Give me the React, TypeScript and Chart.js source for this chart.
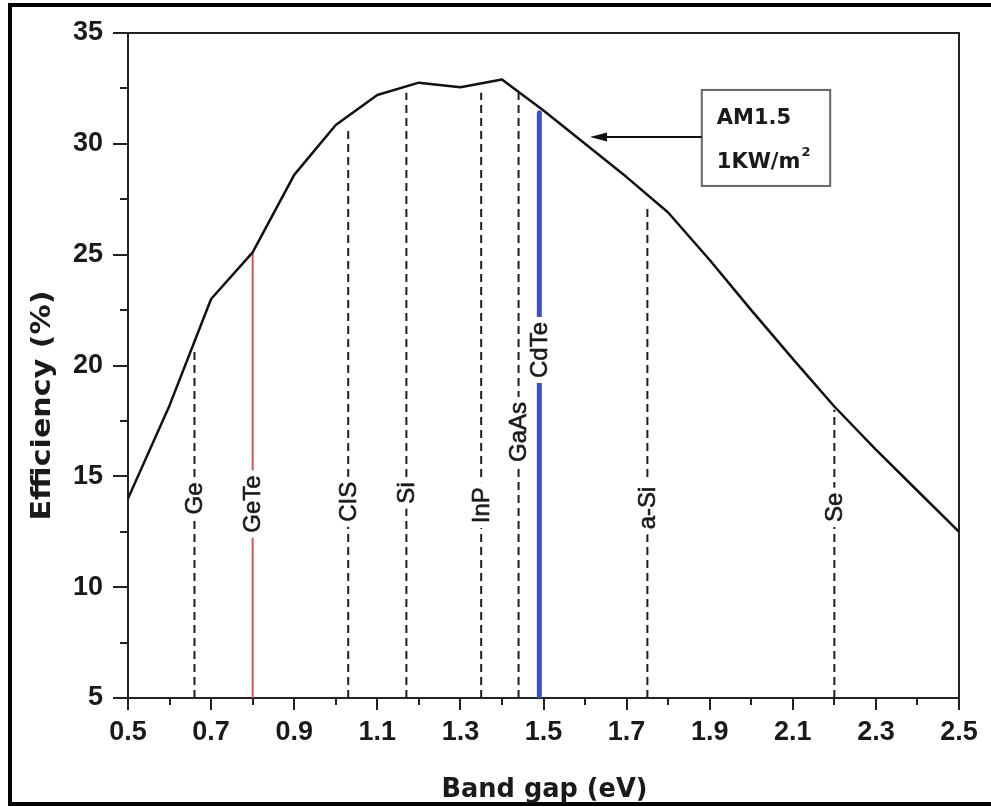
import React, { useEffect, useRef } from 'react';
import { Chart, registerables } from 'chart.js';

Chart.register(...registerables);

// ---- data ----
const bandGap = [0.5, 0.6, 0.7, 0.8, 0.9, 1.0, 1.1, 1.2, 1.3, 1.4, 1.5, 1.6, 1.7, 1.8, 1.9, 2.0, 2.1, 2.2, 2.3, 2.4, 2.5];
const efficiency = [14.0, 18.2, 23.0, 25.1, 28.6, 30.85, 32.2, 32.76, 32.55, 32.9, 31.5, 30.0, 28.5, 26.9, 24.76, 22.5, 20.3, 18.15, 16.2, 14.35, 12.5];

const materials = ['Ge', 'GeTe', 'CIS', 'Si', 'InP', 'GaAs', 'CdTe', 'a-Si', 'Se'];
const materialGap = [0.66, 0.8, 1.03, 1.17, 1.35, 1.44, 1.49, 1.75, 2.2];
const materialTop = [20.7, 25.1, 30.6, 32.3, 32.3, 32.3, 31.4, 27.1, 18.0];
const labelCenter = [14.0, 13.75, 13.85, 14.25, 13.7, 17.0, 20.7, 13.57, 13.6];

const xMajorTicks = [0.5, 0.7, 0.9, 1.1, 1.3, 1.5, 1.7, 1.9, 2.1, 2.3, 2.5];
const xMinorTicks = [0.6, 0.8, 1.0, 1.2, 1.4, 1.6, 1.8, 2.0, 2.2, 2.4];
const yMajorTicks = [5, 10, 15, 20, 25, 30, 35];
const yMinorTicks = [7.5, 12.5, 17.5, 22.5, 27.5, 32.5];

const xTitle = 'Band gap (eV)';
const yTitle = 'Efficiency (%)';
const boxLine1 = 'AM1.5';
const boxLine2 = '1KW/m';
const boxSup = '2';
// annotation box (data units)
const boxX = [1.881, 2.19];
const boxY = [32.43, 28.1];
const arrowY = 30.31;
const arrowTipX = 1.612;

const ARIAL = '"Liberation Sans", Arial, sans-serif';
const DEJAVU = '"DejaVu Sans", sans-serif';

function lineStyle(name: string) {
  if (name === 'GeTe') return { color: '#d9534f', width: 2, dash: [] as number[], cap: 'butt' };
  if (name === 'CdTe') return { color: '#3f4fc6', width: 5, dash: [] as number[], cap: 'round' };
  return { color: '#1e1e1e', width: 2, dash: [8, 5], cap: 'butt' };
}

export default function App() {
  const ref = useRef<HTMLCanvasElement>(null);

  useEffect(() => {
    const canvas = ref.current!;

    const decor = {
      id: 'decor',
      beforeDraw(chart: any) {
        const ctx = chart.ctx;
        ctx.save();
        ctx.fillStyle = '#fff';
        ctx.fillRect(0, 0, chart.width, chart.height);
        ctx.strokeStyle = '#000';
        ctx.lineWidth = 4;
        ctx.beginPath();
        ctx.moveTo(chart.width + 10, 5);
        ctx.lineTo(10, 5);
        ctx.lineTo(10, 804);
        ctx.lineTo(chart.width + 10, 804);
        ctx.stroke();
        ctx.restore();
      },
      afterDatasetsDraw(chart: any) {
        const ctx = chart.ctx;
        const xs = chart.scales.x;
        const ys = chart.scales.y;
        const area = chart.chartArea;
        ctx.save();
        // frame top/right
        ctx.strokeStyle = '#222';
        ctx.lineWidth = 2;
        ctx.beginPath();
        ctx.moveTo(area.left, area.top);
        ctx.lineTo(area.right, area.top);
        ctx.lineTo(area.right, area.bottom);
        ctx.stroke();
        // minor ticks
        ctx.beginPath();
        xMinorTicks.forEach((v) => {
          const px = Math.round(xs.getPixelForValue(v));
          ctx.moveTo(px, area.bottom);
          ctx.lineTo(px, area.bottom + 7);
        });
        yMinorTicks.forEach((v) => {
          const py = Math.round(ys.getPixelForValue(v));
          ctx.moveTo(area.left - 8, py);
          ctx.lineTo(area.left, py);
        });
        ctx.stroke();

        // material labels
        ctx.font = `24px ${ARIAL}`;
        materials.forEach((m, i) => {
          const px = xs.getPixelForValue(materialGap[i]);
          const py = ys.getPixelForValue(labelCenter[i]);
          const w = ctx.measureText(m).width;
          ctx.save();
          ctx.translate(px, py);
          ctx.rotate(-Math.PI / 2);
          ctx.fillStyle = '#fff';
          ctx.fillRect(-w / 2 - 5, -6, w + 10, 12);
          ctx.fillStyle = '#1a1a1a';
          ctx.strokeStyle = '#1a1a1a';
          ctx.lineWidth = 0.6;
          ctx.textAlign = 'center';
          ctx.textBaseline = 'middle';
          ctx.fillText(m, 0, 1);
          ctx.strokeText(m, 0, 1);
          ctx.restore();
        });

        // annotation box
        const bl = xs.getPixelForValue(boxX[0]);
        const br = xs.getPixelForValue(boxX[1]);
        const bt = ys.getPixelForValue(boxY[0]);
        const bb = ys.getPixelForValue(boxY[1]);
        ctx.strokeStyle = '#666';
        ctx.lineWidth = 2;
        ctx.strokeRect(bl, bt, br - bl, bb - bt);
        ctx.fillStyle = '#1a1a1a';
        ctx.textAlign = 'left';
        ctx.textBaseline = 'alphabetic';
        ctx.font = `bold 21px ${DEJAVU}`;
        ctx.fillText(boxLine1, bl + 15, bt + 34);
        ctx.fillText(boxLine2, bl + 15, bt + 78);
        const w2 = ctx.measureText(boxLine2).width;
        ctx.font = `bold 13px ${DEJAVU}`;
        ctx.fillText(boxSup, bl + 16 + w2, bt + 66);
        // arrow
        const ay = ys.getPixelForValue(arrowY);
        const tip = xs.getPixelForValue(arrowTipX);
        ctx.strokeStyle = '#111';
        ctx.lineWidth = 2;
        ctx.beginPath();
        ctx.moveTo(bl, ay);
        ctx.lineTo(tip + 14, ay);
        ctx.stroke();
        ctx.fillStyle = '#111';
        ctx.beginPath();
        ctx.moveTo(tip, ay);
        ctx.lineTo(tip + 17, ay - 4.5);
        ctx.lineTo(tip + 17, ay + 4.5);
        ctx.closePath();
        ctx.fill();
        ctx.restore();
      },
      afterDraw(chart: any) {
        const ctx = chart.ctx;
        const area = chart.chartArea;
        ctx.save();
        ctx.fillStyle = '#1a1a1a';
        // x title
        ctx.font = `bold 26px ${DEJAVU}`;
        ctx.textAlign = 'center';
        ctx.textBaseline = 'alphabetic';
        {
          const w = ctx.measureText(xTitle).width;
          const s = 206 / w;
          ctx.save();
          ctx.translate((area.left + area.right) / 2 + 1, area.bottom + 99);
          ctx.scale(s, 1);
          ctx.fillText(xTitle, 0, 0);
          ctx.restore();
        }
        // y title
        ctx.font = `bold 27px ${DEJAVU}`;
        {
          const w = ctx.measureText(yTitle).width;
          const s = 230 / w;
          ctx.save();
          ctx.translate(area.left - 78, (area.top + area.bottom) / 2 + 40);
          ctx.rotate(-Math.PI / 2);
          ctx.scale(s, 1);
          ctx.fillText(yTitle, 0, 0);
          ctx.restore();
        }
        ctx.restore();
      },
    };

    const datasets: any[] = [
      {
        label: 'Efficiency',
        data: bandGap.map((x, i) => ({ x, y: efficiency[i] })),
        borderColor: '#111',
        borderWidth: 2.5,
        pointRadius: 0,
        tension: 0,
        fill: false,
        borderJoinStyle: 'round',
      },
    ];
    materials.forEach((m, i) => {
      const st = lineStyle(m);
      datasets.push({
        label: m,
        data: [
          { x: materialGap[i], y: 5 },
          { x: materialGap[i], y: materialTop[i] },
        ],
        borderColor: st.color,
        borderWidth: st.width,
        borderDash: st.dash,
        borderCapStyle: st.cap,
        pointRadius: 0,
        tension: 0,
        fill: false,
        clip: 0,
      });
    });

    const chart = new Chart(canvas, {
      type: 'line',
      data: { datasets },
      plugins: [decor],
      options: {
        animation: false,
        responsive: false,
        maintainAspectRatio: false,
        layout: { padding: { left: 0, right: 32, top: 33, bottom: 0 } },
        plugins: { legend: { display: false }, tooltip: { enabled: false } },
        scales: {
          x: {
            type: 'linear',
            min: 0.5,
            max: 2.5,
            afterBuildTicks: (s: any) => {
              s.ticks = xMajorTicks.map((v) => ({ value: v }));
            },
            afterFit: (s: any) => {
              s.height = 109;
            },
            ticks: {
              autoSkip: false,
              maxRotation: 0,
              minRotation: 0,
              padding: 6,
              color: '#1a1a1a',
              font: { family: ARIAL, size: 27, weight: 'bold' },
              callback: (v: any) => Number(v).toFixed(1),
            },
            grid: { drawOnChartArea: false, drawTicks: true, tickLength: 12, color: '#222', lineWidth: 2 },
            border: { display: true, color: '#222', width: 2 },
          },
          y: {
            type: 'linear',
            min: 5,
            max: 35,
            afterBuildTicks: (s: any) => {
              s.ticks = yMajorTicks.map((v) => ({ value: v }));
            },
            afterFit: (s: any) => {
              s.width = 128;
            },
            ticks: {
              autoSkip: false,
              padding: 10,
              color: '#1a1a1a',
              font: { family: ARIAL, size: 27, weight: 'bold' },
              callback: (v: any) => String(v),
            },
            grid: { drawOnChartArea: false, drawTicks: true, tickLength: 15, color: '#222', lineWidth: 2 },
            border: { display: true, color: '#222', width: 2 },
          },
        },
      } as any,
    });

    return () => chart.destroy();
  }, []);

  return (
    <div style={{ position: 'fixed', left: 0, top: 0, width: 991, height: 807, background: '#fff' }}>
      <canvas ref={ref} width={991} height={807} style={{ display: 'block' }} />
    </div>
  );
}
